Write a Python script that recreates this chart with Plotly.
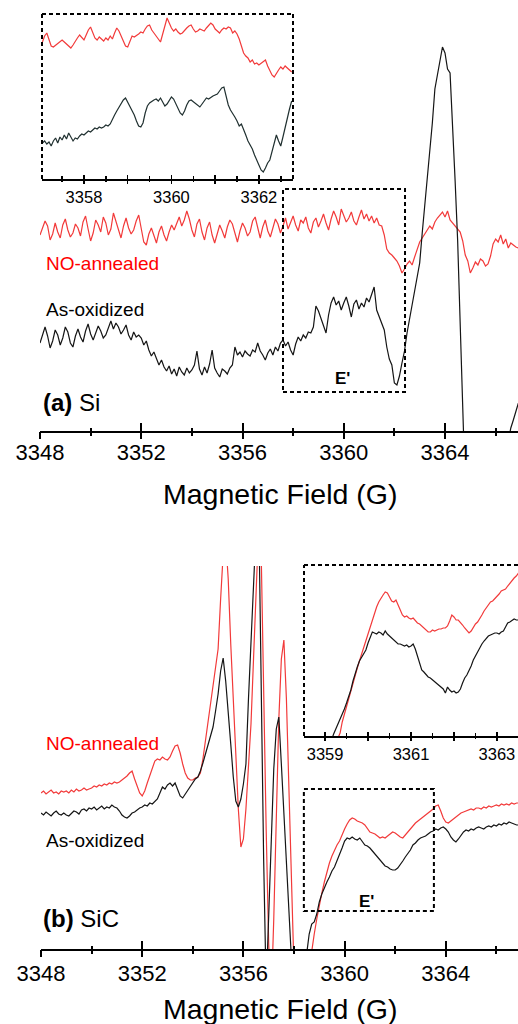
import numpy as np
import plotly.graph_objects as go

W, H = 518, 1024
FONT = "Liberation Sans, Arial, sans-serif"


def px(v):
    return v / W


def py(v):
    return 1 - v / H


# ---------------- data (signal in arbitrary units) ----------------
# Panel (a) Si, main spectrum, field 3348.0 ... 3366.9 G, step 0.1 G
si_main_start, si_main_step = 3348.0, 0.1
si_no_main = [
    196, 203, 210, 205, 191, 197, 208, 199, 193, 206,
    212, 201, 194, 198, 207, 203, 195, 209, 215, 202,
    190, 198, 211, 206, 199, 214, 208, 196, 202, 218,
    209, 200, 193, 205, 213, 203, 197, 201, 210, 216,
    204, 189, 186, 197, 203, 195, 188, 199, 205, 196,
    190, 199, 206, 201, 208, 214, 205, 211, 220, 212,
    201, 194, 207, 212, 199, 191, 203, 209, 196, 188,
    197, 206, 200, 193, 204, 211, 207, 198, 189, 200,
    208, 203, 195, 199, 210, 214, 202, 193, 204, 211,
    200, 194, 203, 212, 207, 198, 205, 213, 202, 209,
    215, 206, 200, 211, 208, 214, 203, 198, 209, 213,
    204, 210, 217, 208, 201, 212, 220, 214, 206, 222,
    215, 209, 213, 219, 210, 206, 214, 221, 212, 217,
    210, 215, 208, 213, 206, 205, 196, 182, 178, 176,
    173, 170, 165, 158, 162, 167, 170, 166, 174, 182,
    189, 193, 197, 201, 205, 202, 209, 213, 216, 219,
    214, 220, 211, 208, 204, 202, 199, 190, 176, 170,
    158, 163, 169, 166, 172, 170, 165, 167, 175, 187,
    192, 189, 196, 187, 192, 183, 188, 186, 184, 183,
]
si_ox_main = [
    88, 97, 104, 95, 83, 90, 101, 96, 86, 93,
    104, 99, 88, 84, 95, 102, 94, 89, 100, 107,
    97, 91, 99, 105, 100, 93, 96, 104, 110, 102,
    108, 104, 97, 101, 106, 96, 91, 99, 94, 96,
    93, 86, 90, 81, 75, 79, 72, 66, 71, 64,
    60, 65, 57, 62, 55, 64, 59, 56, 63, 58,
    61, 66, 80, 62, 56, 64, 58, 67, 81, 63,
    58, 54, 62, 60, 57, 63, 66, 84, 76, 79,
    74, 80, 77, 75, 81, 79, 88, 80, 76, 71,
    78, 82, 76, 84, 80, 88, 91, 85, 89, 81,
    76, 87, 94, 90, 96, 93, 99, 98, 104, 125,
    120, 112, 104, 98, 116, 128, 134, 126, 130, 121,
    128, 134, 125, 114, 127, 131, 122, 128, 124, 133,
    129, 137, 144, 121, 114, 108, 101, 84, 72, 66,
    48, 46, 55, 68, 80, 98, 112, 128, 140, 155,
    168, 198, 226, 250, 274, 308, 342, 356, 368, 384,
    378, 362, 358, 310, 250, 190, 95, -5, -120, -250,
    -350, -380, -390, -385, -370, -350, -320, -290, -250, -210,
    -170, -130, -90, -60, -30, -10, 3, 11, 20, 28,
]

# Panel (a) inset (E' region), 3357.05 ... 3362.75 G, step 0.05 G
si_ins_start, si_ins_step = 3357.05, 0.05
si_no_inset = [
    137, 143, 146, 140, 133, 132, 134, 136, 138, 139,
    137, 135, 133, 131, 134, 138, 141, 144, 141, 139,
    144, 149, 152, 146, 141, 139, 142, 140, 138, 141,
    139, 143, 140, 146, 151, 148, 143, 137, 133, 132,
    138, 143, 142, 144, 145, 147, 146, 150, 153, 154,
    149, 146, 143, 140, 137, 145, 153, 161, 156, 151,
    148, 150, 147, 145, 146, 149, 151, 153, 154, 150,
    147, 148, 150, 149, 148, 151, 153, 156, 154, 150,
    148, 146, 149, 151, 150, 152, 151, 146, 148, 145,
    140, 132, 126, 123, 121, 117, 119, 115, 116, 114,
    116, 118, 119, 113, 108, 104, 102, 106, 109, 112,
    110, 113, 111, 108, 107,
]
si_ox_inset = [
    36, 38, 35, 37, 33, 38, 41, 36, 42, 39,
    44, 40, 46, 42, 38, 41, 40, 43, 45, 44,
    46, 48, 47, 49, 51, 50, 52, 51, 52, 54,
    53, 55, 60, 64, 68, 72, 76, 79, 81, 77,
    72, 69, 64, 58, 53, 52, 56, 66, 73, 76,
    78, 79, 80, 78, 81, 77, 73, 75, 79, 82,
    80, 75, 70, 66, 64, 68, 74, 78, 79, 77,
    75, 74, 72, 75, 78, 81, 80, 82, 83, 84,
    85, 88, 91, 92, 84, 74, 69, 66, 62, 58,
    53, 55, 50, 44, 38, 34, 30, 24, 18, 14,
    9, 7, 11, 16, 19, 27, 36, 44, 38, 33,
    42, 52, 60, 70, 78,
]

# Panel (b) SiC, main spectrum, 3348.0 ... 3366.9 G, step 0.1 G
sic_main_start, sic_main_step = 3348.0, 0.1
sic_no_main = [
    156, 158, 155, 157, 159, 156, 157, 155, 158, 157,
    158, 156, 159, 157, 160, 158, 159, 161, 159, 160,
    161, 163, 162, 164, 163, 165, 164, 166, 165, 167,
    166, 167, 169, 171, 173, 176, 178, 170, 162, 156,
    153, 158, 166, 174, 182, 188, 190, 189, 192, 190,
    189, 192, 198, 203, 204, 196, 185, 176, 171, 169,
    169, 171, 172, 176, 190, 208, 228, 248, 262, 280,
    300, 350, 395, 410, 370, 305, 250, 190, 140, 102,
    110, 140, 180, 225, 290, 360, 420, 400, 250, 120,
    5, -50, 30, 130, 230, 290, 309, 250, 160, 60,
    -20, -80, -100, -90, -70, -40, -20, 0, 15, 30,
    45, 56, 67, 77, 86, 93, 99, 104, 108, 115,
    120, 125, 129, 131, 130, 128, 127, 126, 124, 120,
    117, 116, 115, 113, 111, 112, 111, 113, 115, 117,
    116, 114, 112, 111, 114, 118, 121, 124, 126, 128,
    130, 132, 134, 136, 138, 140, 143, 144, 138, 131,
    127, 126, 128, 130, 132, 134, 136, 137, 138, 139,
    140, 139, 141, 141, 140, 142, 141, 143, 142, 143,
    144, 143, 145, 144, 145, 144, 146, 145, 146, 146,
]
sic_ox_main = [
    136, 134, 137, 135, 133, 136, 138, 135, 134, 136,
    134, 133, 136, 138, 137, 135, 139, 140, 138, 141,
    140, 142, 139, 141, 143, 140, 142, 141, 144, 142,
    141, 138, 134, 132, 131, 133, 136, 137, 139, 141,
    142, 144, 143, 146, 145, 148, 150, 156, 162, 160,
    164, 166, 163, 166, 159, 153, 151, 155, 159, 163,
    167, 170, 172, 178, 186, 195, 203, 212, 222, 238,
    255, 278, 291, 268, 240, 205, 172, 148, 142, 150,
    165, 185, 250, 320, 375, 420, 450, 240, 90, -40,
    40, 120, 180, 220, 232, 185, 130, 75, 20, -30,
    -60, -70, -50, -30, -15, -5, 15, 25, 27, 35,
    47, 55, 62, 67, 72, 78, 82, 88, 95, 101,
    108, 111, 110, 112, 110, 109, 111, 108, 104, 103,
    101, 98, 95, 93, 89, 86, 83, 82, 80, 79,
    79, 81, 84, 88, 92, 95, 99, 104, 106, 109,
    111, 112, 113, 115, 117, 118, 120, 119, 121, 122,
    120, 117, 112, 109, 107, 110, 114, 117, 119, 118,
    120, 119, 121, 122, 121, 120, 122, 123, 122, 124,
    123, 125, 124, 126, 125, 127, 126, 125, 124, 124,
]

# Panel (b) inset (E' region), 3359.00 ... 3363.50 G, step 0.05 G
sic_ins_start, sic_ins_step = 3359.0, 0.05
sic_no_inset = [
    -60, -48, -36, -25, -15, -7, -2, 3, 14, 22,
    30, 38, 46, 53, 61, 68, 75, 82, 89, 96,
    103, 109, 116, 122, 129, 134, 138, 141, 144, 143,
    139, 135, 134, 136, 131, 125, 121, 119, 120, 118,
    117, 118, 115, 113, 112, 110, 107, 106, 104, 104,
    106, 105, 106, 107, 107, 108, 108, 110, 115, 121,
    119, 116, 116, 114, 111, 108, 105, 103, 105, 109,
    112, 114, 117, 121, 125, 128, 132, 134, 135, 137,
    139, 142, 145, 146, 147, 150, 153, 156, 158, 160,
    163,
]
sic_ox_inset = [
    -30, -20, -11, -4, 2, 7, 12, 16, 21, 27,
    33, 39, 46, 55, 63, 69, 75, 79, 82, 86,
    93, 99, 104, 103, 102, 104, 103, 101, 105, 102,
    100, 98, 97, 94, 92, 92, 91, 90, 91, 89,
    90, 92, 87, 80, 72, 66, 64, 61, 59, 58,
    56, 55, 53, 51, 49, 47, 43, 49, 46, 44,
    45, 43, 44, 47, 53, 58, 61, 65, 70, 76,
    80, 85, 89, 92, 95, 98, 100, 101, 102, 103,
    103, 102, 104, 105, 109, 113, 114, 116, 117, 116,
    116,
]

# axis ticks / labels
main_major_ticks = [3348, 3352, 3356, 3360, 3364]
main_minor_ticks = [3350, 3354, 3358, 3362, 3366]
si_inset_ticks = [3358, 3359, 3360, 3361, 3362]
si_inset_labels = ["3358", "", "3360", "", "3362"]
si_inset_minor = [3357.5, 3358.5, 3359.5, 3360.5, 3361.5, 3362.5]
sic_inset_ticks = [3359, 3360, 3361, 3362, 3363]
sic_inset_labels = ["3359", "", "3361", "", "3363"]
sic_inset_minor = [3359.5, 3360.5, 3361.5, 3362.5]

series_names = ["NO-annealed", "As-oxidized"]
RED = "#f23a3a"
BLACK = "#151515"


def field(start, step, vals):
    return np.round(start + step * np.arange(len(vals)), 3)


fig = go.Figure()

traces = [
    (si_main_start, si_main_step, si_no_main, "x", "y", RED, 1.2),
    (si_main_start, si_main_step, si_ox_main, "x2", "y", BLACK, 1.2),
    (si_ins_start, si_ins_step, si_no_inset, "x3", "y3", RED, 1.2),
    (si_ins_start, si_ins_step, si_ox_inset, "x4", "y3", "#203030", 1.2),
    (sic_main_start, sic_main_step, sic_no_main, "x5", "y5", RED, 1.2),
    (sic_main_start, sic_main_step, sic_ox_main, "x6", "y5", BLACK, 1.2),
    (sic_ins_start, sic_ins_step, sic_no_inset, "x7", "y7", RED, 1.2),
    (sic_ins_start, sic_ins_step, sic_ox_inset, "x8", "y7", BLACK, 1.2),
]
for i, (s, st, vals, xa, ya, col, lw) in enumerate(traces):
    fig.add_trace(go.Scatter(
        x=field(s, st, vals), y=vals, mode="lines",
        name=series_names[i % 2],
        line=dict(color=col, width=lw),
        xaxis=xa, yaxis=ya, hoverinfo="skip",
    ))


def main_x(domain, rng, anchor, overlay=None, standoff=0):
    # labelled axis carries the upward ticks; overlay axis the downward ones
    d = dict(domain=domain, range=rng, anchor=anchor, showgrid=False,
             zeroline=False, fixedrange=True, tickcolor="black",
             automargin=False,
             tickmode="array", tickvals=main_major_ticks, tickwidth=2)
    if overlay is None:
        d.update(showline=True, linecolor="black", linewidth=2,
                 ticks="inside", ticklen=8, ticklabelstandoff=standoff,
                 tickfont=dict(family=FONT, size=22, color="black"),
                 minor=dict(ticks="inside", ticklen=3, tickwidth=2,
                            tickcolor="black", tickmode="array",
                            tickvals=main_minor_ticks))
    else:
        d.update(overlaying=overlay, showline=False, ticks="outside",
                 ticklen=7, showticklabels=False,
                 minor=dict(ticks="outside", ticklen=4, tickwidth=2,
                            tickcolor="black", tickmode="array",
                            tickvals=main_minor_ticks))
    return d


def inset_x(domain, rng, anchor, tv, tt, minor_v, overlay=None):
    d = dict(domain=domain, range=rng, anchor=anchor, showgrid=False,
             zeroline=False, fixedrange=True, tickcolor="black",
             automargin=False,
             tickmode="array", tickvals=tv, ticktext=tt, tickwidth=1.5)
    if overlay is None:
        d.update(showline=True, linecolor="black", linewidth=1.5,
                 ticks="outside", ticklen=3,
                 tickfont=dict(family=FONT, size=16.5, color="black"),
                 minor=dict(ticks="outside", ticklen=1, tickwidth=1.5,
                            tickcolor="black", tickmode="array",
                            tickvals=minor_v))
    else:
        d.update(overlaying=overlay, showline=False, ticks="inside",
                 ticklen=4, showticklabels=False,
                 minor=dict(ticks="inside", ticklen=3, tickwidth=1.5,
                            tickcolor="black", tickmode="array",
                            tickvals=minor_v))
    return d


def hidden_y(domain, rng):
    return dict(domain=domain, range=rng, visible=False, fixedrange=True,
                automargin=False)


A_RANGE = [3348, 3348 + (518 - 40) / 25.3125]
B_RANGE = [3348, 3348 + (518 - 41) / 25.3]
AI_RANGE = [3357.04, 3362.78]
BI_RANGE = [3358.51, 3363.49]

fig.update_layout(
    xaxis=main_x([px(40), 1], A_RANGE, "y", standoff=1),
    xaxis2=main_x([px(40), 1], A_RANGE, "y", overlay="x"),
    yaxis=hidden_y([py(431), py(40)], [0, 391]),
    xaxis3=inset_x([px(42), px(293)], AI_RANGE, "y3", si_inset_ticks,
                   si_inset_labels, si_inset_minor),
    xaxis4=inset_x([px(42), px(293)], AI_RANGE, "y3", si_inset_ticks,
                   si_inset_labels, si_inset_minor, overlay="x3"),
    yaxis3=hidden_y([py(179), py(14)], [0, 165]),
    xaxis5=main_x([px(41), 1], B_RANGE, "y5", standoff=4),
    xaxis6=main_x([px(41), 1], B_RANGE, "y5", overlay="x5"),
    yaxis5=hidden_y([py(949), py(566)], [0, 383]),
    xaxis7=inset_x([px(304), 1], BI_RANGE, "y7", sic_inset_ticks,
                   sic_inset_labels, sic_inset_minor),
    xaxis8=inset_x([px(304), 1], BI_RANGE, "y7", sic_inset_ticks,
                   sic_inset_labels, sic_inset_minor, overlay="x7"),
    yaxis7=hidden_y([py(736), py(565)], [0, 171]),
)

DASH = dict(color="black", width=2, dash="4px,3px")
shapes = [
    # inset (a) dashed frame (left, top, right)
    dict(type="line", xref="x3 domain", yref="y3 domain", x0=0, x1=0, y0=0, y1=1, line=DASH),
    dict(type="line", xref="x3 domain", yref="y3 domain", x0=0, x1=1, y0=1, y1=1, line=DASH),
    dict(type="line", xref="x3 domain", yref="y3 domain", x0=1, x1=1, y0=0, y1=1, line=DASH),
    # inset (b) dashed frame (left, top)
    dict(type="line", xref="x7 domain", yref="y7 domain", x0=0, x1=0, y0=0, y1=1, line=DASH),
    dict(type="line", xref="x7 domain", yref="y7 domain", x0=0, x1=1, y0=1, y1=1, line=DASH),
    # E' boxes on the main spectra
    dict(type="rect", xref="x", yref="y", x0=3357.6, x1=3362.42, y0=39, y1=242, line=DASH),
    dict(type="rect", xref="x5", yref="y5", x0=3358.39, x1=3363.53, y0=38, y1=160, line=DASH),
]

def ann(text, x, y, size, color="black", xanchor="left"):
    return dict(text=text, x=px(x), y=py(y), xref="paper", yref="paper",
                xanchor=xanchor, yanchor="middle", showarrow=False,
                font=dict(family=FONT, size=size, color=color))

annotations = [
    ann("NO-annealed", 44, 263, 19, "#ff0000"),
    ann("As-oxidized", 44, 309, 19),
    ann("<b>(a)</b> Si", 41, 402, 24),
    ann("<b>E'</b>", 342, 378, 17, xanchor="center"),
    ann("Magnetic Field (G)", 280, 494, 28.5, xanchor="center"),
    ann("NO-annealed", 44, 743, 19, "#ff0000"),
    ann("As-oxidized", 44, 840, 19),
    ann("<b>(b)</b> SiC", 41, 918, 24),
    ann("<b>E'</b>", 366, 901, 17, xanchor="center"),
    ann("Magnetic Field (G)", 280, 1009, 28.5, xanchor="center"),
]

fig.update_layout(
    width=W, height=H, margin=dict(l=0, r=0, t=0, b=0, autoexpand=False),
    paper_bgcolor="white", plot_bgcolor="rgba(0,0,0,0)",
    showlegend=False, shapes=shapes, annotations=annotations,
    font=dict(family=FONT, color="black"),
)

fig.write_html("out.html", config={"displayModeBar": False, "staticPlot": True})
